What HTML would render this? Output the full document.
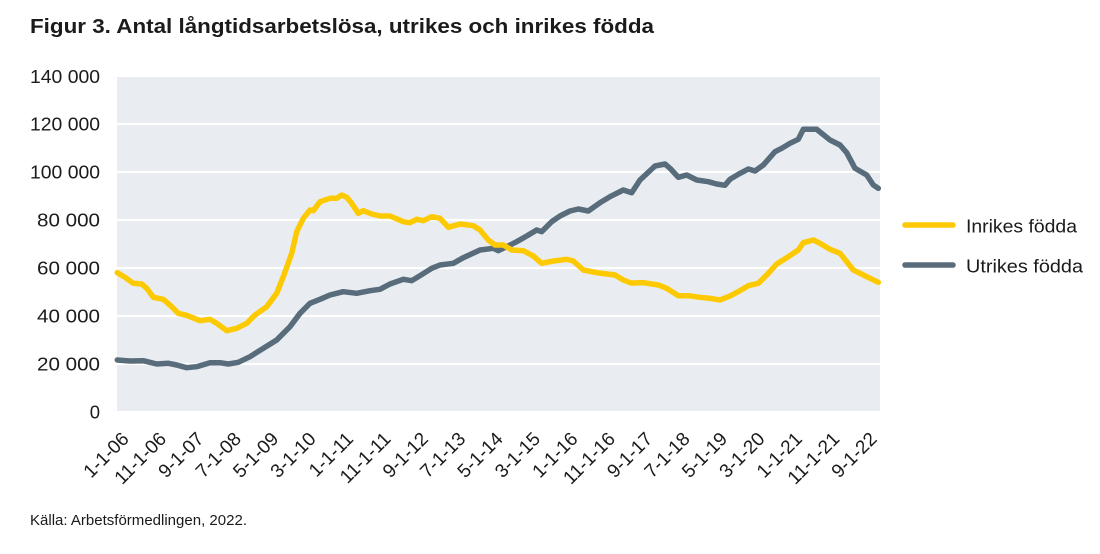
<!DOCTYPE html>
<html>
<head>
<meta charset="utf-8">
<style>
  html, body { margin: 0; padding: 0; background: #ffffff; }
  body { width: 1100px; height: 554px; overflow: hidden; }
  svg { display: block; }
  text { font-family: "Liberation Sans", "DejaVu Sans", sans-serif; fill: #1b1b1b; }
</style>
</head>
<body>
<svg width="1100" height="554" viewBox="0 0 1100 554" xmlns="http://www.w3.org/2000/svg">
  <rect x="0" y="0" width="1100" height="554" fill="#ffffff"/>

  <!-- Title -->
  <text x="30" y="33" font-size="20.5" font-weight="bold" textLength="624" lengthAdjust="spacingAndGlyphs">Figur 3. Antal långtidsarbetslösa, utrikes och inrikes födda</text>

  <!-- Plot background -->
  <rect x="117" y="77" width="763" height="334" fill="#e9edf1"/>

  <!-- Gridlines -->
  <g stroke="#ffffff" stroke-width="2.2">
    <line x1="117" y1="124" x2="880" y2="124"/>
    <line x1="117" y1="172" x2="880" y2="172"/>
    <line x1="117" y1="220" x2="880" y2="220"/>
    <line x1="117" y1="268" x2="880" y2="268"/>
    <line x1="117" y1="316" x2="880" y2="316"/>
    <line x1="117" y1="364" x2="880" y2="364"/>
  </g>

  <!-- Y axis labels -->
  <g font-size="18.5" text-anchor="end">
    <text x="100" y="83" textLength="70" lengthAdjust="spacingAndGlyphs">140 000</text>
    <text x="100" y="130.5" textLength="70" lengthAdjust="spacingAndGlyphs">120 000</text>
    <text x="100" y="178.5" textLength="70" lengthAdjust="spacingAndGlyphs">100 000</text>
    <text x="100" y="226.5" textLength="63" lengthAdjust="spacingAndGlyphs">80 000</text>
    <text x="100" y="274.5" textLength="63" lengthAdjust="spacingAndGlyphs">60 000</text>
    <text x="100" y="322.5" textLength="63" lengthAdjust="spacingAndGlyphs">40 000</text>
    <text x="100" y="370.5" textLength="63" lengthAdjust="spacingAndGlyphs">20 000</text>
    <text x="100" y="418.5">0</text>
  </g>

  <!-- Series: Utrikes födda -->
  <polyline fill="none" stroke="#586c7b" stroke-width="5.5" stroke-linejoin="round" stroke-linecap="round"
    points="117.3,360 130,361 143.3,360.7 156.7,364 168.3,363.3 176.7,365 186.7,367.7 196.7,366.7 210,362.7 220,362.7 228.3,364 238.3,362.3 250,356.7 263.3,348.3 276.7,340 290,326.7 300,313.3 310,303.3 320,299.3 330,295 343.3,291.7 356.7,293.3 370,290.7 380,289.3 390,284 403.3,279.3 411.7,280.7 420,275.7 431.7,268.3 440,265 453.3,263.3 463.3,257.7 480,250 493.3,248.3 498.3,250.7 506.7,246.7 516.7,241.7 526.7,236 536.7,230 541.7,231.7 551.7,221.7 560,216 570,211 578.3,209 588.3,211 600,202.7 610,196.7 623.3,190 631.7,192.7 640,180 655,166 665,164 670,168.3 678.3,177.3 686.7,175 696.7,180 708.3,181.7 716.7,184 725,185.3 730,179.3 738.3,174.3 748.3,169 755,171 763.3,165 775,151.7 781.7,148.3 790,143.3 798.3,139.3 803.3,129.3 816.7,129.3 830,140 840,145 846.7,152.7 855,168.3 866.7,175 873.3,185 878.3,188.3"/>

  <!-- Series: Inrikes födda -->
  <polyline fill="none" stroke="#fdc900" stroke-width="5.5" stroke-linejoin="round" stroke-linecap="round"
    points="117.3,272.7 125,277.3 133.3,283.3 141.7,284 146.7,288.3 153.3,297.3 163.3,299.3 171.7,306.7 178.3,313.3 186.7,315.3 200,320.7 210,319.3 216.7,323.3 226.7,330.7 236.7,328.3 246.7,323.3 255,315 266.7,306.7 276.7,293.3 283.3,276.7 291.7,253.3 296.7,231.7 303.3,218.3 310,210 313.3,210.7 320,201.7 330,198.3 336.7,198.3 341.7,195 346.7,197.3 351.7,203.3 358.3,213.3 363.3,210.7 371.7,214 380,216 390,216 403.3,221.7 410,222.7 416.7,219.3 423.3,220.7 431.7,216.7 440,218.3 448.3,227.3 460,224 473.3,225.7 480,230 488.3,240 495,245 503.3,245 511.7,250 523.3,250.7 533.3,256 541.7,263.3 553.3,261 566.7,259.3 573.3,261 583.3,270 596.7,272.7 615,275 623.3,280 631,283 643.3,282.7 658.3,285 666.7,288.3 678.3,295.7 688.3,295.7 700,297.3 710,298.3 720,300 730,296 740,290.7 748.3,285.7 758.3,283.3 766.7,275 776.7,264 788.3,256.7 798.3,250 803.3,242.7 813.3,240 820,243.3 830,249.3 840,253.3 853.3,270 863.3,275 878.3,282.3"/>

  <!-- X axis labels (rotated) -->
  <g font-size="19" text-anchor="end">
    <text transform="translate(130,440) rotate(-45)">1-1-06</text>
    <text transform="translate(167.4,440) rotate(-45)">11-1-06</text>
    <text transform="translate(204.8,440) rotate(-45)">9-1-07</text>
    <text transform="translate(242.2,440) rotate(-45)">7-1-08</text>
    <text transform="translate(279.6,440) rotate(-45)">5-1-09</text>
    <text transform="translate(317,440) rotate(-45)">3-1-10</text>
    <text transform="translate(354.4,440) rotate(-45)">1-1-11</text>
    <text transform="translate(391.8,440) rotate(-45)">11-1-11</text>
    <text transform="translate(429.2,440) rotate(-45)">9-1-12</text>
    <text transform="translate(466.6,440) rotate(-45)">7-1-13</text>
    <text transform="translate(504,440) rotate(-45)">5-1-14</text>
    <text transform="translate(541.4,440) rotate(-45)">3-1-15</text>
    <text transform="translate(578.8,440) rotate(-45)">1-1-16</text>
    <text transform="translate(616.2,440) rotate(-45)">11-1-16</text>
    <text transform="translate(653.6,440) rotate(-45)">9-1-17</text>
    <text transform="translate(691,440) rotate(-45)">7-1-18</text>
    <text transform="translate(728.4,440) rotate(-45)">5-1-19</text>
    <text transform="translate(765.8,440) rotate(-45)">3-1-20</text>
    <text transform="translate(803.2,440) rotate(-45)">1-1-21</text>
    <text transform="translate(840.6,440) rotate(-45)">11-1-21</text>
    <text transform="translate(878,440) rotate(-45)">9-1-22</text>
  </g>

  <!-- Legend -->
  <line x1="905" y1="225" x2="953" y2="225" stroke="#fdc900" stroke-width="5.5" stroke-linecap="round"/>
  <text x="966" y="232.5" font-size="18.5" textLength="111" lengthAdjust="spacingAndGlyphs">Inrikes födda</text>
  <line x1="905" y1="265" x2="953" y2="265" stroke="#586c7b" stroke-width="5.5" stroke-linecap="round"/>
  <text x="966" y="272.5" font-size="18.5" textLength="117" lengthAdjust="spacingAndGlyphs">Utrikes födda</text>

  <!-- Source -->
  <text x="30" y="525" font-size="14.5" textLength="217" lengthAdjust="spacingAndGlyphs">Källa: Arbetsförmedlingen, 2022.</text>
</svg>
</body>
</html>
